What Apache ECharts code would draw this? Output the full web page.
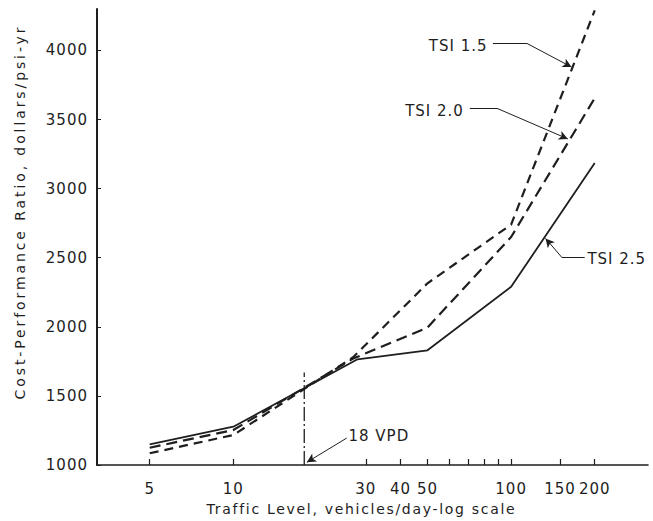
<!DOCTYPE html>
<html>
<head>
<meta charset="utf-8">
<script src="https://cdn.jsdelivr.net/npm/echarts@6/dist/echarts.min.js"></script>
<style>
html,body{margin:0;padding:0;background:#fff;}
#chart{width:653px;height:521px;}
</style>
</head>
<body>
<div id="chart"></div>
<script>
// ---- data ----
var seriesNames = ['TSI 2.5', 'TSI 2.0', 'TSI 1.5'];
var traffic25 = [5, 10, 28, 50, 100, 200];
var ratio25   = [1150, 1277, 1765, 1830, 2290, 3185];
var traffic20 = [5, 10, 27, 50, 100, 200];
var ratio20   = [1125, 1253, 1770, 1995, 2650, 3655];
var traffic15 = [5, 10, 27, 50, 100, 200];
var ratio15   = [1085, 1217, 1780, 2315, 2740, 4290];
var xTickValues  = [5, 10, 30, 40, 50, 60, 70, 80, 90, 100, 150, 200];
var xLabelValues = [5, 10, 30, 40, 50, 100, 150, 200];
var yTickValues  = [1000, 1500, 2000, 2500, 3000, 3500, 4000];
var vpdTraffic = 18;
var vpdRange = [1000, 1670];
var xTitle = 'Traffic Level, vehicles/day-log scale';
var yTitle = 'Cost-Performance Ratio, dollars/psi-yr';

function pairs(xs, ys) { return xs.map(function (x, i) { return [x, ys[i]]; }); }

// annotation anchor points (data space)
var labelTexts = [
  {text: 'TSI 1.5', at: [64.5, 4030]},
  {text: 'TSI 2.0', at: [53, 3560]},
  {text: 'TSI 2.5', at: [240, 2490]},
  {text: '18 VPD', at: [33.4, 1210]}
];
var leaders = [
  [[86, 4051], [114, 4051], [165, 3880]],
  [[71, 3581], [89, 3581], [160, 3360]],
  [[184, 2504], [152, 2504], [133, 2640]],
  [[25.6, 1195], [18.4, 1020]]
];

var ink = '#1e1e1e';
var font = 'DejaVu Sans';

var leaderData = [];
leaders.forEach(function (pts) {
  for (var i = 0; i < pts.length - 1; i++) {
    var last = (i === pts.length - 2);
    leaderData.push([
      {coord: pts[i], symbol: 'none'},
      {coord: pts[i + 1], symbol: last ? 'arrow' : 'none'}
    ]);
  }
});

var chart = echarts.init(document.getElementById('chart'), null, {renderer: 'svg'});
chart.setOption({
  backgroundColor: '#fff',
  animation: false,
  grid: {left: 97, right: 5, top: 9, bottom: 56},
  xAxis: {
    type: 'log',
    min: 3.23, max: 311,
    name: xTitle,
    nameLocation: 'middle',
    nameGap: 37,
    nameTextStyle: {fontFamily: font, fontSize: 14, color: ink, padding: [0, 22, 0, 0]},
    axisLine: {show: true, lineStyle: {color: ink, width: 1.6}},
    axisTick: {show: true, inside: true, length: 6, lineStyle: {color: ink, width: 1.2}, customValues: xTickValues},
    axisLabel: {fontFamily: font, fontSize: 15, color: ink, margin: 16, customValues: xLabelValues},
    splitLine: {show: false},
    minorTick: {show: false}
  },
  yAxis: {
    type: 'value',
    min: 1000, max: 4300,
    name: yTitle,
    nameLocation: 'middle',
    nameGap: 70,
    nameTextStyle: {fontFamily: font, fontSize: 14, color: ink, padding: [0, 0, 0, 50]},
    axisLine: {show: true, lineStyle: {color: ink, width: 2}},
    axisTick: {show: true, inside: true, length: 4, lineStyle: {color: ink, width: 1}, customValues: yTickValues},
    axisLabel: {fontFamily: font, fontSize: 15, color: ink, margin: 9, customValues: yTickValues,
      formatter: function (v) { return String(v); }},
    splitLine: {show: false}
  },
  series: [
    {
      name: seriesNames[0], type: 'line', data: pairs(traffic25, ratio25),
      symbol: 'none', lineStyle: {color: ink, width: 1.8, type: 'solid'},
      markLine: {
        silent: true, animation: false,
        symbol: ['none', 'arrow'], symbolSize: [7, 9],
        lineStyle: {color: ink, width: 1, type: 'solid'},
        label: {show: false},
        data: leaderData
      },
      markPoint: {
        silent: true, animation: false,
        symbol: 'circle', symbolSize: 0,
        label: {show: true, position: 'inside', fontFamily: font, fontSize: 15, color: ink,
          formatter: function (p) { return p.name; }},
        data: labelTexts.map(function (l) { return {name: l.text, coord: l.at}; })
      }
    },
    {
      name: seriesNames[1], type: 'line', data: pairs(traffic20, ratio20),
      symbol: 'none', lineStyle: {color: ink, width: 2.2, type: [11, 6]}
    },
    {
      name: seriesNames[2], type: 'line', data: pairs(traffic15, ratio15),
      symbol: 'none', lineStyle: {color: ink, width: 2.2, type: [9, 6]}
    },
    {
      name: '18 VPD', type: 'line',
      data: [[vpdTraffic, vpdRange[0]], [vpdTraffic, vpdRange[1]]],
      symbol: 'none', lineStyle: {color: ink, width: 1.3, type: [14, 3, 2, 3]}
    }
  ]
});

// widen lettering like the original drafting-style text
function spaceText() {
  var els = document.querySelectorAll('#chart svg text');
  els.forEach(function (el) {
    var t = el.textContent;
    var s = '1px';
    if (t === xTitle) s = '1.7px';
    else if (t === yTitle) s = '2.9px';
    el.style.letterSpacing = s;
  });
}
spaceText();
chart.on('finished', spaceText);
setTimeout(spaceText, 50);
setTimeout(spaceText, 300);
</script>
</body>
</html>
